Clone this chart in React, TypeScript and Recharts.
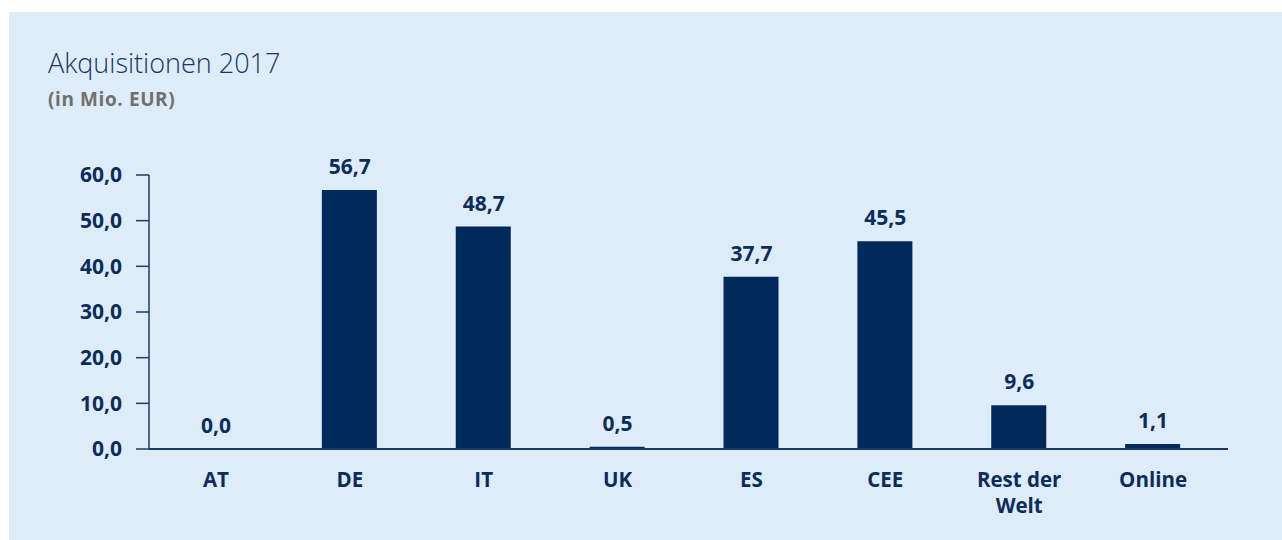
import React from 'react'
import { ComposedChart, Bar, Line, XAxis, YAxis, LabelList } from 'recharts'

const categories = ['AT', 'DE', 'IT', 'UK', 'ES', 'CEE', 'Rest der Welt', 'Online']
const values = [0.0, 56.7, 48.7, 0.5, 37.7, 45.5, 9.6, 1.1]
const yTicks = [0, 10, 20, 30, 40, 50, 60]

const NAVY = '#002a5c'
const TEXT = '#0c2d5c'
const FONT = '"Open Sans", "Noto Sans", sans-serif'

const data = categories.map((name, i) => ({ name, value: values[i] }))

const fmt = (v: number) => v.toFixed(1).replace('.', ',')

function CategoryTick({ x, y, payload }: any) {
  const label: string = payload.value
  const lines = label === 'Rest der Welt' ? ['Rest der', 'Welt'] : [label]
  return (
    <g>
      {lines.map((l, i) => (
        <text key={i} x={x} y={y + 30 + i * 26} textAnchor="middle" fill={TEXT} fontSize={20.5} fontWeight={700} fontFamily={FONT}>
          {l}
        </text>
      ))}
    </g>
  )
}

export default function App() {
  return (
    <div style={{ position: 'absolute', left: 0, top: 0, width: 1282, height: 540, background: '#fff', fontFamily: FONT }}>
      <div style={{ position: 'absolute', left: 9, top: 12, width: 1273, height: 528, background: '#deebf8' }} />
      <div style={{ position: 'absolute', left: 48, top: 44, fontSize: 27, fontWeight: 300, color: '#13386b', whiteSpace: 'nowrap' }}>
        Akquisitionen 2017
      </div>
      <div style={{ position: 'absolute', left: 48, top: 86, fontSize: 19, fontWeight: 700, letterSpacing: 0.6, color: '#707070', whiteSpace: 'nowrap' }}>
        (in Mio. EUR)
      </div>
      <div style={{ position: 'absolute', left: 0, top: 0 }}>
        <ComposedChart
          width={1282}
          height={540}
          data={data}
          margin={{ top: 175, right: 54, left: 0, bottom: 31 }}
        >
          <XAxis
            dataKey="name"
            height={60}
            interval={0}
            tickLine={false}
            axisLine={{ stroke: '#1b3a68', strokeWidth: 2 }}
            padding={{ left: 0, right: 8 }}
            tick={<CategoryTick />}
          />
          <YAxis
            width={149}
            domain={[0, 60]}
            ticks={yTicks}
            tickFormatter={fmt}
            tickSize={13}
            tickMargin={14}
            axisLine={{ stroke: '#1b3a68', strokeWidth: 1.5 }}
            tickLine={{ stroke: '#1b3a68', strokeWidth: 1.5 }}
            tick={{ fill: TEXT, fontSize: 21, fontWeight: 700, fontFamily: FONT }}
          />
          <Bar dataKey="value" fill={NAVY} barSize={55} isAnimationActive={false} />
          <Line dataKey="value" stroke="none" dot={false} activeDot={false} isAnimationActive={false}>
            <LabelList
              dataKey="value"
              position="top"
              offset={16}
              formatter={(v: any) => fmt(Number(v))}
              fill={TEXT}
              fontSize={21}
              fontWeight={700}
              fontFamily={FONT}
            />
          </Line>
        </ComposedChart>
      </div>
    </div>
  )
}
